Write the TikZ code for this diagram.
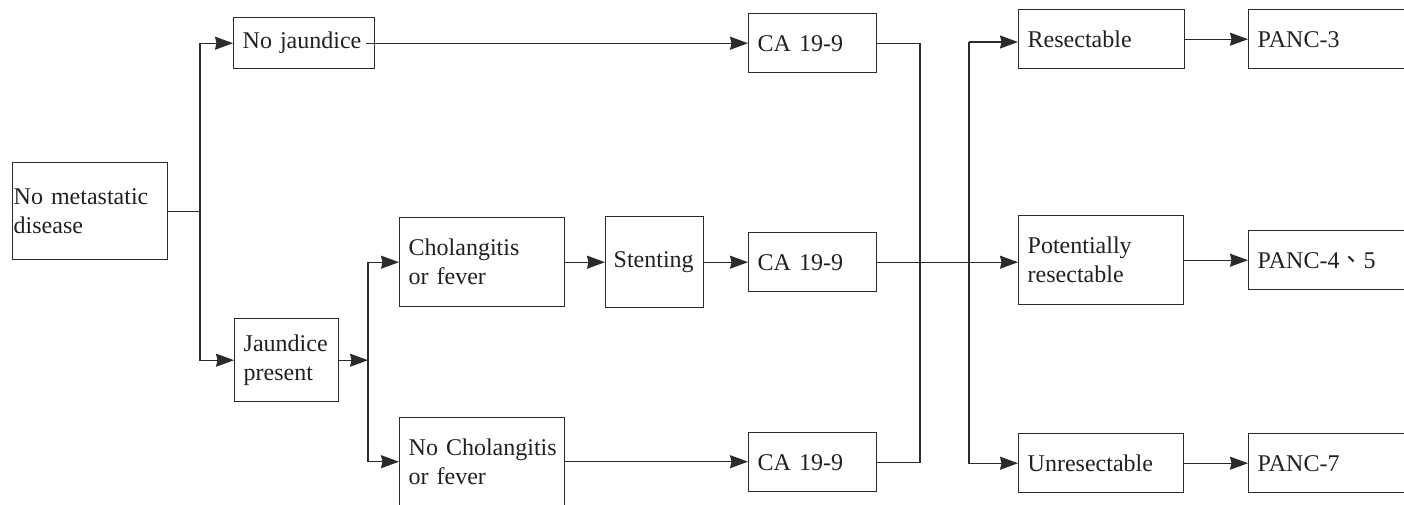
\documentclass[tikz,border=0pt]{standalone}
\usepackage{fontspec}
\setmainfont{Liberation Serif}
\newfontfamily\cjkfont{Noto Sans CJK TC}
\usetikzlibrary{arrows.meta}
\definecolor{linec}{HTML}{2B2B2B}
\definecolor{textc}{HTML}{231F20}
\begin{document}
\begin{tikzpicture}[x=1pt,y=-1pt,
  box/.style={draw=linec, line width=1.4pt, anchor=north west, inner xsep=9pt, inner ysep=0pt,
    align=left, text=textc, font=\fontsize{24}{29}\selectfont},
  ln/.style={draw=linec, line width=1.4pt},
  arr/.style={ln, -{Stealth[length=18pt,width=13pt,inset=1.5pt]}}]
\useasboundingbox (0,0) rectangle (1404,504);
\clip (0,0) rectangle (1404,504);
% nodes
\node[box, inner xsep=1pt, text width=153pt, minimum height=97pt] (nmd) at (12,162) {No metastatic\\disease};
\node[box, text width=123pt, minimum height=51pt] (nj) at (233,17) {No jaundice};
\node[box, text width=86pt, minimum height=83pt] (jp) at (234,318) {Jaundice\\present};
\node[box, text width=147pt, minimum height=89pt] (ch) at (399,217) {Cholangitis\\or fever};
\node[box, inner xsep=8pt, text width=82pt, minimum height=91pt] (st) at (605,216) {Stenting};
\node[box, text width=147pt, minimum height=88pt] (nch) at (399,417) {\mbox{No Cholangitis}\\or fever};
\node[box, text width=110pt, minimum height=59pt] (ca1) at (748,13) {CA 19-9};
\node[box, text width=110pt, minimum height=59pt] (ca2) at (748,232) {CA 19-9};
\node[box, text width=110pt, minimum height=59pt] (ca3) at (748,432) {CA 19-9};
\node[box, text width=148pt, minimum height=59pt] (res) at (1018,9) {Resectable};
\node[box, text width=147pt, minimum height=89pt] (pot) at (1018,215) {Potentially\\resectable};
\node[box, text width=147pt, minimum height=59pt] (unr) at (1018,433) {Unresectable};
\node[box, text width=160pt, minimum height=59pt] (p3) at (1248,9) {PANC-3};
\node[box, text width=160pt, minimum height=59pt] (p45) at (1248,230) {PANC-4{\cjkfont 、}5};
\node[box, text width=160pt, minimum height=59pt] (p7) at (1248,433) {PANC-7};
% bus coordinates
\coordinate (v1) at (200,0);
\coordinate (v2) at (368,0);
\coordinate (v3) at (920,0);
\coordinate (t1) at (969,42);
% connectors
\draw[ln] (nmd.east) -- (nmd.east -| v1);
\draw[arr] (nmd.east -| v1) |- (nj.west);
\draw[arr] (nmd.east -| v1) |- (jp.west);
\draw[arr] (jp.east) -- (jp.east -| v2);
\draw[arr] (jp.east -| v2) |- (ch.west);
\draw[arr] (jp.east -| v2) |- (nch.west);
\draw[arr] ([xshift=-9pt]nj.east) -- (nj.east -| ca1.west);
\draw[arr] (ch.east) -- (st.west);
\draw[arr] (st.east) -- (ca2.west);
\draw[arr] (nch.east) -- (nch.east -| ca3.west);
\draw[ln] (ca1.east) -- (ca1.east -| v3) |- (ca3.east);
\draw[arr] (ca2.east) -- (ca2.east -| pot.west);
\draw[arr] (t1) -- (t1 -| res.west);
\draw[arr] (t1) |- (unr.west);
\draw[arr] (res.east) -- (p3.west);
\draw[arr] (pot.east) -- (pot.east -| p45.west);
\draw[arr] (unr.east) -- (p7.west);
\end{tikzpicture}
\end{document}
